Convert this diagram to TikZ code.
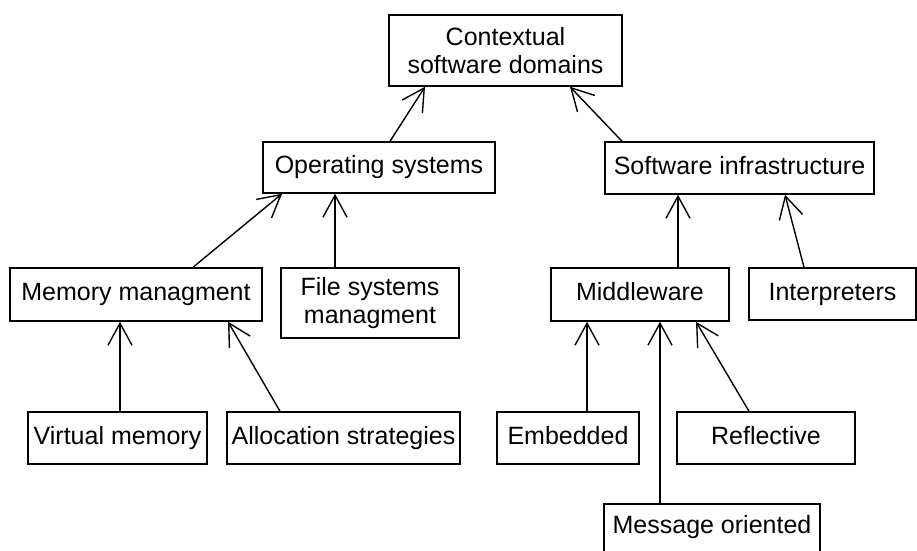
\documentclass[tikz,border=0pt]{standalone}
\usepackage{fontspec}
\setmainfont{Liberation Sans}
\usetikzlibrary{arrows.meta}
\tikzset{
  box/.style={draw, line width=1.5pt, rectangle, inner sep=0pt, align=center,
    font=\fontsize{25}{28}\selectfont, text height=17.5pt, text depth=5pt},
  arr/.style={draw, line width=1.4pt, -{Straight Barb[length=22pt, width=24pt, line width=1.4pt]}}
}
\begin{document}
\begin{tikzpicture}[x=1pt, y=-1pt]
\path[clip] (0,0) rectangle (917,550);
\fill[white] (0,0) rectangle (917,550);
% top
\node[box, minimum width=233pt, minimum height=71pt, text height=, text depth=] (ctx) at (505.5,50.5) {Contextual\\software domains};
% level 2
\node[box, minimum width=232pt, minimum height=51pt] (os) at (379,167.5) {Operating systems};
\node[box, minimum width=269pt, minimum height=52pt] (si) at (739.5,168) {Software infrastructure};
% level 3
\node[box, minimum width=252pt, minimum height=53pt] (mm) at (136,294.5) {Memory managment};
\node[box, minimum width=178pt, minimum height=70pt, text height=, text depth=] (fsm) at (370,303) {File systems\\managment};
\node[box, minimum width=178pt, minimum height=53pt] (mw) at (640,294.5) {Middleware};
\node[box, minimum width=167pt, minimum height=52pt] (int) at (832.5,294) {Interpreters};
% level 4
\node[box, minimum width=179pt, minimum height=52pt] (vm) at (117.5,438) {Virtual memory};
\node[box, minimum width=233pt, minimum height=52pt] (as) at (343.5,438) {Allocation strategies};
\node[box, minimum width=142pt, minimum height=52pt] (emb) at (568,438) {Embedded};
\node[box, minimum width=178pt, minimum height=52pt] (ref) at (766,438) {Reflective};
\node[box, minimum width=216pt, minimum height=0pt, text height=30pt, text depth=25pt, anchor=north] (mo) at (712,503) {Message oriented};
% connectors
\draw[arr] ([xshift=11pt]os.north) -- ([xshift=-80.5pt]ctx.south);
\draw[arr] ([xshift=-117.5pt]si.north) -- ([xshift=64.5pt]ctx.south);
\draw[arr] ([xshift=57pt]mm.north) -- ([xshift=-97pt]os.south);
\draw[arr] ([xshift=-35pt]fsm.north) -- ([xshift=-44pt]os.south);
\draw[arr] ([xshift=2.5pt]vm.north) -- ([xshift=-16pt]mm.south);
\draw[arr] ([xshift=-63.5pt]as.north) -- ([xshift=92pt]mm.south);
\draw[arr] ([xshift=38pt]mw.north) -- ([xshift=-61.5pt]si.south);
\draw[arr] ([xshift=-28.5pt]int.north) -- ([xshift=45.5pt]si.south);
\draw[arr] ([xshift=19pt]emb.north) -- ([xshift=-53pt]mw.south);
\draw[arr] ([xshift=-52pt]mo.north) -- ([xshift=20pt]mw.south);
\draw[arr] ([xshift=-17pt]ref.north) -- ([xshift=56pt]mw.south);
\end{tikzpicture}
\end{document}
